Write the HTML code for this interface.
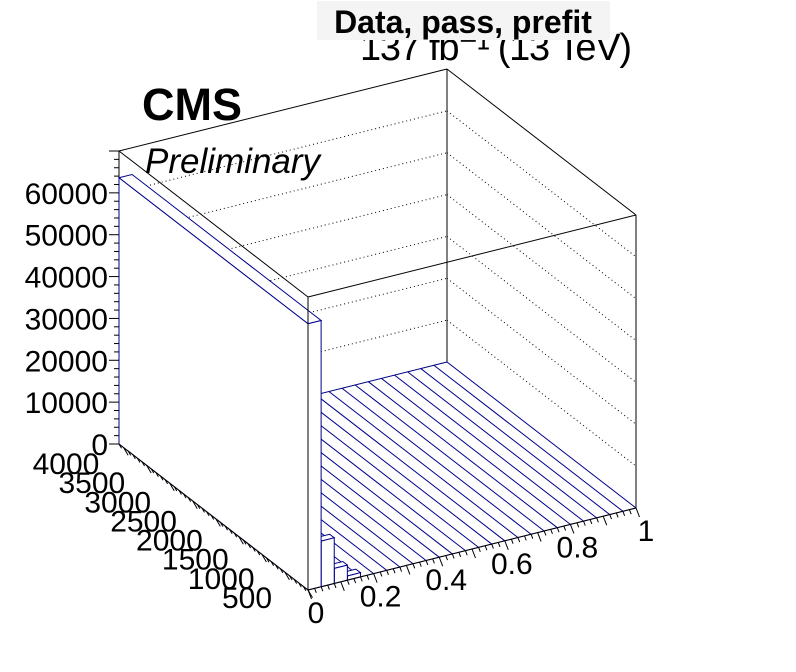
<!DOCTYPE html>
<html><head><meta charset="utf-8"><style>
html,body{margin:0;padding:0;background:#fff;}
svg{display:block;font-family:"Liberation Sans",sans-serif;}
</style></head><body>
<svg id="c" width="796" height="672" viewBox="0 0 796 672">
<rect width="796" height="672" fill="#fff"/>
<g id="walls"></g>
<g id="floor"></g>
<g id="bars"></g>
<g id="frame"></g>
<g id="axes"></g>
<text x="142" y="120" font-size="45" font-weight="bold">CMS</text>
<text x="145" y="173" font-size="35" font-style="italic">Preliminary</text>
<text x="632" y="60" font-size="38" text-anchor="end" textLength="272">137 fb⁻¹ (13 TeV)</text>
<rect x="317" y="1" width="293" height="39" fill="#f4f4f4"/>
<text x="463" y="33" font-size="32" font-weight="bold" text-anchor="middle">Data, pass, prefit</text>
</svg>
<script>
const xBinWidth = 0.04;
const xBinCount = 25;
const yMax = 4100;
const zMax = 70000;
const wallValue = 63600;             // x-bin 0, all y
const frontRowValues = [63600, 10900, 3600, 1000]; // x-bins 0..3, first y-bin
const frontRowYWidth = 100;
const zTicks = [0, 10000, 20000, 30000, 40000, 50000, 60000];
const xTicks = [0, 0.2, 0.4, 0.6, 0.8, 1];
const xTickLabels = ["0", "0.2", "0.4", "0.6", "0.8", "1"];
const yTicks = [500, 1000, 1500, 2000, 2500, 3000, 3500, 4000];

const O = [308, 590], EX = [328, -82], EY = [-189, -146], EZ = [0, -293];
function P(x, y, z) {
  return [O[0] + x * EX[0] + (y / yMax) * EY[0] + (z / zMax) * EZ[0],
          O[1] + x * EX[1] + (y / yMax) * EY[1] + (z / zMax) * EZ[1]];
}
const NS = "http://www.w3.org/2000/svg";
function mk(parent, tag, attrs) {
  const e = document.createElementNS(NS, tag);
  for (const k in attrs) e.setAttribute(k, attrs[k]);
  document.getElementById(parent).appendChild(e);
  return e;
}
function line(parent, a, b, stroke, dash, w) {
  return mk(parent, "line", {x1: a[0], y1: a[1], x2: b[0], y2: b[1], stroke: stroke, "stroke-width": w || 1, "stroke-dasharray": dash || "none"});
}

zTicks.slice(1).forEach(z => {
  const g1 = line("walls", P(0, yMax, z), P(1, yMax, z), "#000", "1,3");
  
  
  const g2 = line("walls", P(1, yMax, z), P(1, 0, z), "#000", "1,3");
  
  
});
line("walls", P(1, yMax, 0), P(1, yMax, zMax), "#000");
line("walls", P(0, yMax, 0), P(0, yMax, zMax), "#000");
line("walls", P(1, 0, 0), P(1, 0, zMax), "#000");
line("walls", P(0, yMax, zMax), P(1, yMax, zMax), "#000");
line("walls", P(1, yMax, zMax), P(1, 0, zMax), "#000");

const blue = "#00008b";
for (let i = 1; i <= xBinCount; i++) {
  const x = i * xBinWidth;
  const l = line("floor", P(x, 0, 0), P(x, yMax, 0), blue);
  
  
}
line("floor", P(xBinWidth, 0, 0), P(1, 0, 0), blue);
line("floor", P(xBinWidth, yMax, 0), P(1, yMax, 0), blue);

function box(x0, x1, y0, y1, h, name) {
  const g = mk("bars", "g", {});
  
  
  const top = [P(x0, y0, h), P(x1, y0, h), P(x1, y1, h), P(x0, y1, h)];
  const front = [P(x0, y0, 0), P(x1, y0, 0), P(x1, y0, h), P(x0, y0, h)];
  const left = [P(x0, y0, 0), P(x0, y1, 0), P(x0, y1, h), P(x0, y0, h)];
  [top, front, left].forEach(f => {
    const p = document.createElementNS(NS, "polygon");
    p.setAttribute("points", f.map(q => q.join(",")).join(" "));
    p.setAttribute("fill", "#fff"); p.setAttribute("stroke", blue);
    g.appendChild(p);
  });
}
for (let i = frontRowValues.length - 1; i >= 1; i--) {
  if (frontRowValues[i] > 0) box(i * xBinWidth, (i + 1) * xBinWidth, 0, frontRowYWidth, frontRowValues[i], "bar-x" + i);
}
box(0, xBinWidth, 0, yMax, wallValue, "bar-wall");

line("frame", P(0, 0, 0), P(0, 0, zMax), "#000");
line("frame", P(0, yMax, zMax), P(0, 0, zMax), "#000");
line("frame", P(0, 0, zMax), P(1, 0, zMax), "#000");
line("frame", P(0, 0, 0), P(1, 0, 0), "#000");
line("frame", P(0, 0, 0), P(0, yMax, 0), "#000");

for (let i = 0; i <= 35; i++) {
  const z = i * 2000;
  const p = P(0, yMax, z);
  line("axes", p, [p[0] - (i % 5 === 0 ? 10 : 5), p[1]], "#000");
}
zTicks.forEach(z => {
  const p = P(0, yMax, z);
  const t = mk("axes", "text", {x: 108, y: p[1] + 11, "font-size": 30, "text-anchor": "end"});
  t.textContent = String(z);
  
  
});
for (let i = 0; i <= 50; i++) {
  const x = i * 0.02;
  const p = P(x, 0, 0);
  const L = i % 5 === 0 ? 10 : 5;
  line("axes", p, [p[0] + L * 0.35, p[1] + L * 0.9], "#000");
}
xTicks.forEach((x, i) => {
  const p = P(x, 0, 0);
  const t = mk("axes", "text", {x: p[0] + (i === 0 ? 8 : (i === 5 ? 10 : 7)), y: p[1] + 33, "font-size": 30, "text-anchor": "middle"});
  t.textContent = xTickLabels[i];
  
  
});
for (let i = 0; i <= 41; i++) {
  const y = i * 100;
  const p = P(0, y, 0);
  const L = i % 5 === 0 ? 9 : 5;
  line("axes", p, [p[0] + L * 0.5, p[1] + L * 0.85], "#000");
}
yTicks.forEach(y => {
  const cx = 66 + (4000 - y) / 3500 * 181;
  const cy = 463 + (4000 - y) / 3500 * 134;
  const t = mk("axes", "text", {x: cx, y: cy + 11, "font-size": 30, "text-anchor": "middle"});
  t.textContent = String(y);
  
  
});
</script>
</body></html>
